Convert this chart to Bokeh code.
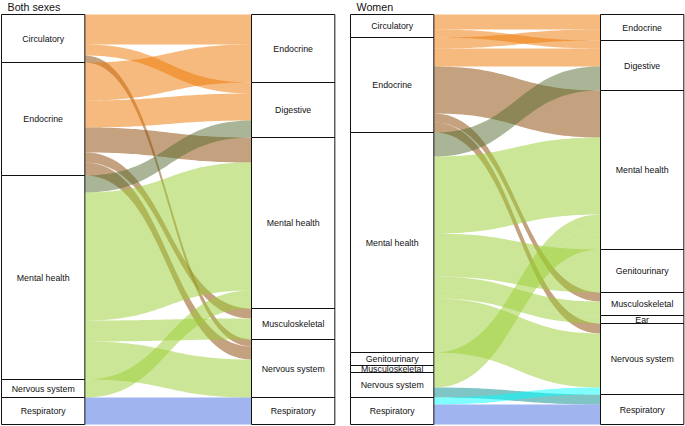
import numpy as np
from bokeh.plotting import figure
from bokeh.layouts import row
from bokeh.models import Range1d, ColumnDataSource
from bokeh.embed import file_html
from bokeh.resources import INLINE
from bokeh.core.properties import value

# ---------------- data ----------------
titles = ["Both sexes", "Women"]

both_left_strata = ["Circulatory", "Endocrine", "Mental health", "Nervous system", "Respiratory"]
both_right_strata = ["Endocrine", "Digestive", "Mental health", "Musculoskeletal", "Nervous system", "Respiratory"]
both_from = ["Circulatory", "Circulatory", "Circulatory",
             "Endocrine", "Endocrine", "Endocrine", "Endocrine", "Endocrine",
             "Mental health", "Mental health", "Mental health", "Mental health",
             "Nervous system", "Respiratory"]
both_to = ["Endocrine", "Digestive", "Nervous system",
           "Endocrine", "Digestive", "Mental health", "Musculoskeletal", "Nervous system",
           "Digestive", "Mental health", "Musculoskeletal", "Nervous system",
           "Mental health", "Respiratory"]
both_values = [30, 11, 7, 38, 27, 25, 10, 13, 17, 128, 21, 38, 18, 27]
both_group = ["A", "A", "B", "A", "A", "B", "B", "B", "C", "D", "D", "D", "D", "E"]

women_left_strata = ["Circulatory", "Endocrine", "Mental health", "Genitourinary",
                     "Musculoskeletal", "Nervous system", "Respiratory"]
women_right_strata = ["Endocrine", "Digestive", "Mental health", "Genitourinary",
                      "Musculoskeletal", "Ear", "Nervous system", "Respiratory"]
women_from = ["Circulatory", "Circulatory",
              "Endocrine", "Endocrine", "Endocrine", "Endocrine", "Endocrine",
              "Mental health", "Mental health", "Mental health", "Mental health", "Mental health", "Mental health",
              "Genitourinary", "Musculoskeletal", "Nervous system", "Nervous system",
              "Respiratory", "Respiratory"]
women_to = ["Endocrine", "Digestive",
            "Endocrine", "Digestive", "Mental health", "Musculoskeletal", "Nervous system",
            "Digestive", "Mental health", "Genitourinary", "Musculoskeletal", "Ear", "Nervous system",
            "Mental health", "Mental health", "Mental health", "Respiratory",
            "Nervous system", "Respiratory"]
women_values = [15, 8, 11, 18, 47, 9, 10, 24, 77, 43, 14, 8, 54, 13, 7, 15, 10, 7, 20]
women_group = ["A", "A", "A", "A", "B", "B", "B", "C", "D", "D", "D", "D", "D",
               "D", "D", "D", "G", "F", "E"]

# ---------------- styles ----------------
palette = {"A": "#EE7600", "B": "#8B4500", "C": "#556B2F", "D": "#9ACD32",
           "E": "#4169E1", "F": "#00FFFF", "G": "#008B8B"}
FONT = "Liberation Sans"
W_STRAT = 1.0 / 3.0


def flow_layout(lefts, rights, src, dst, vals):
    n = len(vals)
    ol = sorted(range(n), key=lambda i: (lefts.index(src[i]), rights.index(dst[i])))
    orr = sorted(range(n), key=lambda i: (rights.index(dst[i]), lefts.index(src[i])))
    yl = [0.0] * n
    yr = [0.0] * n
    c = 0.0
    for i in ol:
        yl[i] = c
        c += vals[i]
    c = 0.0
    for i in orr:
        yr[i] = c
        c += vals[i]
    return ol, yl, yr


def strata_extents(strata, keys, vals):
    out = []
    c = 0.0
    for s in strata:
        tot = sum(v for k, v in zip(keys, vals) if k == s)
        out.append((s, c, c + tot))
        c += tot
    return out


def bezier(x0, y0, x1, y1, k=0.5, n=48):
    t = np.linspace(0, 1, n)
    d = x1 - x0
    px = [x0, x0 + k * d, x1 - k * d, x1]
    py = [y0, y0, y1, y1]
    b = [(1 - t) ** 3, 3 * (1 - t) ** 2 * t, 3 * (1 - t) * t ** 2, t ** 3]
    xs = sum(bi * p for bi, p in zip(b, px))
    ys = sum(bi * p for bi, p in zip(b, py))
    return xs, ys


def make_panel(title, lefts, rights, src, dst, vals, groups, x0, x1, width):
    p = figure(width=width, height=426, output_backend="svg", toolbar_location=None,
               x_range=Range1d(x0, x1), y_range=Range1d(412, -14),
               min_border=0, min_border_left=0, min_border_right=0,
               min_border_top=0, min_border_bottom=0)
    p.axis.visible = False
    p.grid.visible = False
    p.outline_line_color = None
    p.background_fill_color = "white"
    p.border_fill_color = "white"

    ol, yl, yr = flow_layout(lefts, rights, src, dst, vals)
    xa = 1 + W_STRAT / 2
    xb = 2 - W_STRAT / 2
    xs_all, ys_all, cols = [], [], []
    for i in ol:
        v = vals[i]
        tx, ty = bezier(xa, yl[i], xb, yr[i])
        bx, by = bezier(xa, yl[i] + v, xb, yr[i] + v)
        xs_all.append(list(tx) + list(bx[::-1]))
        ys_all.append(list(ty) + list(by[::-1]))
        cols.append(palette[groups[i]])
    p.patches(xs="xs", ys="ys", fill_color="c", fill_alpha=0.5, line_color=None,
              source=ColumnDataSource(dict(xs=xs_all, ys=ys_all, c=cols)))

    for xc, strata, keys in ((1, lefts, src), (2, rights, dst)):
        ext = strata_extents(strata, keys, vals)
        names = [e[0] for e in ext]
        tops = [e[1] for e in ext]
        bots = [e[2] for e in ext]
        p.quad(left=xc - W_STRAT / 2, right=xc + W_STRAT / 2, top=tops, bottom=bots,
               fill_color="white", line_color="#111111", line_width=1)
        p.text(x=[xc] * len(names), y=[(a + b) / 2 for a, b in zip(tops, bots)], text=names,
               text_align="center", text_baseline="middle", text_font=value(FONT),
               text_font_size="8.8px", text_color="#111111")

    p.text(x=[1 - W_STRAT / 2 + 0.024], y=[-7.4], text=[title], text_align="left",
           text_baseline="alphabetic", text_font=value(FONT), text_font_size="10.7px",
           text_color="#111111")
    return p


p1 = make_panel(titles[0], both_left_strata, both_right_strata, both_from, both_to,
                both_values, both_group, 0.8293, 2.1973, 342)
p2 = make_panel(titles[1], women_left_strata, women_right_strata, women_from, women_to,
                women_values, women_group, 0.8013, 2.1733, 343)

layout = row(p1, p2)
open("out.html", "w").write(file_html(layout, INLINE))
